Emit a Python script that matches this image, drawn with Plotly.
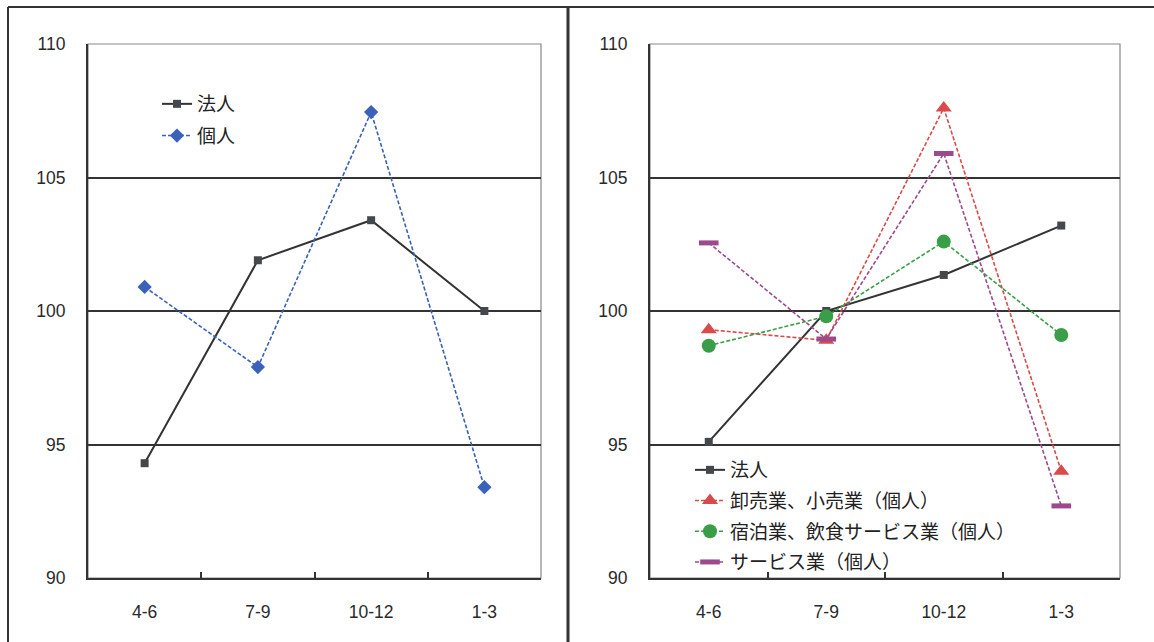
import plotly.graph_objects as go

categories = ["4-6", "7-9", "10-12", "1-3"]

# Left panel
left_hojin = [94.3, 101.9, 103.4, 100.0]
left_kojin = [100.9, 97.9, 107.45, 93.4]

# Right panel
right_hojin = [95.1, 100.0, 101.35, 103.2]
right_oroshi = [99.3, 98.9, 107.6, 94.0]
right_shukuhaku = [98.7, 99.8, 102.6, 99.1]
right_service = [102.55, 98.95, 105.9, 92.7]

ytickvals = [90, 95, 100, 105, 110]

W, H = 1154, 642
DARK = "#333333"
BLUE = "#3a62b8"
RED = "#d94a4a"
GREEN = "#3a9e48"
PURPLE = "#9c4a8c"
DASH = "4px,2px"

fig = go.Figure()

def px_x(p):
    return p / W

def px_y(p):
    return 1 - p / H

# left traces
fig.add_trace(go.Scatter(x=categories, y=left_hojin, name="法人", mode="lines+markers",
                         line=dict(color=DARK, width=2),
                         marker=dict(symbol="square", size=8, color="#44484c"),
                         xaxis="x", yaxis="y", legend="legend", legendgroup="a"))
fig.add_trace(go.Scatter(x=categories, y=left_kojin, name="個人", mode="lines+markers",
                         line=dict(color=BLUE, width=1.6, dash=DASH),
                         marker=dict(symbol="diamond", size=11, color=BLUE),
                         xaxis="x", yaxis="y", legend="legend", legendgroup="b"))

# right traces
fig.add_trace(go.Scatter(x=categories, y=right_hojin, name="法人", mode="lines+markers",
                         line=dict(color=DARK, width=2),
                         marker=dict(symbol="square", size=8, color="#44484c"),
                         xaxis="x2", yaxis="y2", legend="legend2", legendgroup="c"))
fig.add_trace(go.Scatter(x=categories, y=right_oroshi, name="卸売業、小売業（個人）", mode="lines+markers",
                         line=dict(color=RED, width=1.6, dash=DASH),
                         marker=dict(symbol="triangle-up", size=14, color=RED),
                         xaxis="x2", yaxis="y2", legend="legend2", legendgroup="d"))
fig.add_trace(go.Scatter(x=categories, y=right_shukuhaku, name="宿泊業、飲食サービス業（個人）", mode="lines+markers",
                         line=dict(color=GREEN, width=1.6, dash=DASH),
                         marker=dict(symbol="circle", size=14, color=GREEN),
                         xaxis="x2", yaxis="y2", legend="legend2", legendgroup="e"))
fig.add_trace(go.Scatter(x=categories, y=right_service, name="サービス業（個人）", mode="lines+markers",
                         line=dict(color=PURPLE, width=1.6, dash=DASH),
                         marker=dict(symbol="line-ew", size=14, color=PURPLE,
                                     line=dict(color=PURPLE, width=5)),
                         xaxis="x2", yaxis="y2", legend="legend2", legendgroup="f"))

tickfont = dict(family="Liberation Sans, Arial, sans-serif", size=17.5, color="#2a2a2a")

def xax(domain):
    return dict(domain=domain, type="category", range=[-0.5, 3.5],
                showline=True, linecolor=DARK, linewidth=2,
                ticks="inside", ticklen=6, tickcolor=DARK, tickwidth=1.5, tickson="boundaries",
                showgrid=False, tickfont=tickfont, ticklabelstandoff=17, zeroline=False,
                fixedrange=True)

def yax(domain, anchor):
    return dict(domain=domain, anchor=anchor, range=[90, 110], tickvals=ytickvals,
                showline=True, linecolor=DARK, linewidth=2, ticks="",
                showgrid=True, gridcolor=DARK, gridwidth=1.5,
                tickfont=tickfont, ticklabelstandoff=17, zeroline=False)

ydom = [px_y(578), px_y(44)]
legfont = dict(family="Noto Sans CJK JP", size=19, color="#222222")
fig.update_layout(
    width=W, height=H,
    margin=dict(l=0, r=0, t=0, b=0, autoexpand=False),
    paper_bgcolor="white", plot_bgcolor="white",
    xaxis=dict(xax([px_x(88), px_x(541)]), anchor="y"),
    yaxis=yax(ydom, "x"),
    xaxis2=dict(xax([px_x(650), px_x(1120)]), anchor="y2"),
    yaxis2=yax(ydom, "x2"),
    legend=dict(x=px_x(157), y=px_y(85), xanchor="left", yanchor="top",
                bgcolor="rgba(255,255,255,0)", tracegroupgap=4, font=legfont),
    legend2=dict(x=px_x(690), y=px_y(451), xanchor="left", yanchor="top",
                 bgcolor="rgba(255,255,255,0)", tracegroupgap=3, font=legfont),
    showlegend=True,
)

shapes = []
# plot-area frames (thin gray top/right)
for x0, x1 in [(88, 541), (650, 1120)]:
    shapes.append(dict(type="rect", xref="paper", yref="paper",
                       x0=px_x(x0), x1=px_x(x1), y0=px_y(578), y1=px_y(44),
                       line=dict(color="#888888", width=1.2), layer="below"))
# panel borders
shapes.append(dict(type="line", xref="paper", yref="paper", x0=px_x(8), x1=px_x(1154),
                   y0=px_y(7), y1=px_y(7), line=dict(color="#333333", width=2)))
shapes.append(dict(type="line", xref="paper", yref="paper", x0=px_x(8), x1=px_x(8),
                   y0=px_y(7), y1=px_y(650), line=dict(color="#333333", width=2)))
shapes.append(dict(type="line", xref="paper", yref="paper", x0=px_x(568), x1=px_x(568),
                   y0=px_y(7), y1=px_y(650), line=dict(color="#333333", width=3)))
fig.update_layout(shapes=shapes)

fig.write_html("out.html", config={"displayModeBar": False},
               post_script="document.body.style.margin='0';document.body.style.overflow='hidden';document.documentElement.style.overflow='hidden';")
